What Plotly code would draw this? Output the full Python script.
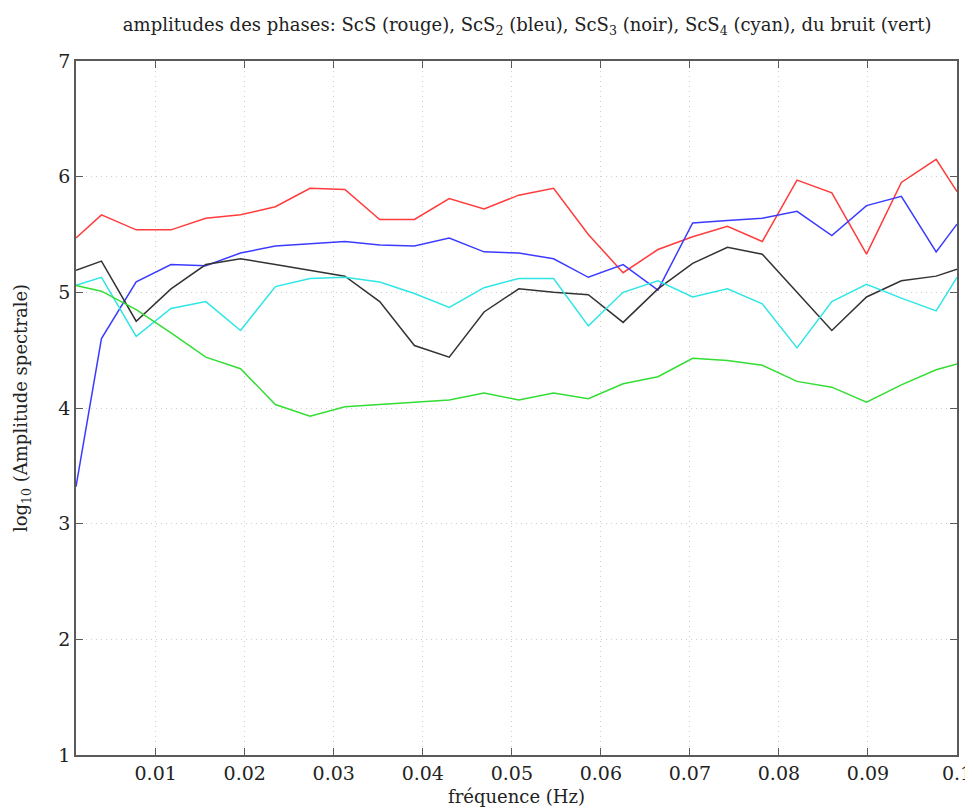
# Spectral amplitudes of ScS multiples and noise, log10 scale

# Imports
import plotly.graph_objects as go

# Globals

# Frequencies (Hz): edges of the axis plus the k/256 Hz samples
frequences = [0.00105, 0.00391, 0.00781, 0.01172, 0.01563, 0.01953, 0.02344, 0.02734,
	0.03125, 0.03516, 0.03906, 0.04297, 0.04688, 0.05078, 0.05469, 0.05859, 0.0625,
	0.06641, 0.07031, 0.07422, 0.07813, 0.08203, 0.08594, 0.08984, 0.09375, 0.09766, 0.1]

scs_rouge = [5.47, 5.67, 5.54, 5.54, 5.64, 5.67, 5.74, 5.90, 5.89, 5.63, 5.63, 5.81, 5.72,
	5.84, 5.90, 5.50, 5.17, 5.37, 5.48, 5.57, 5.44, 5.97, 5.86, 5.33, 5.95, 6.15, 5.87]
scs2_bleu = [3.32, 4.60, 5.09, 5.24, 5.23, 5.34, 5.40, 5.42, 5.44, 5.41, 5.40, 5.47, 5.35,
	5.34, 5.29, 5.13, 5.24, 5.02, 5.60, 5.62, 5.64, 5.70, 5.49, 5.75, 5.83, 5.35, 5.59]
scs3_noir = [5.19, 5.27, 4.75, 5.03, 5.24, 5.29, 5.24, 5.19, 5.14, 4.92, 4.54, 4.44, 4.83,
	5.03, 5.00, 4.98, 4.74, 5.03, 5.25, 5.39, 5.33, 5.00, 4.67, 4.96, 5.10, 5.14, 5.20]
scs4_cyan = [5.06, 5.13, 4.62, 4.86, 4.92, 4.67, 5.05, 5.12, 5.13, 5.09, 4.99, 4.87, 5.04,
	5.12, 5.12, 4.71, 5.00, 5.10, 4.96, 5.03, 4.90, 4.52, 4.92, 5.07, 4.95, 4.84, 5.13]
bruit_vert = [5.06, 5.01, 4.85, 4.65, 4.44, 4.34, 4.03, 3.93, 4.01, 4.03, 4.05, 4.07, 4.13,
	4.07, 4.13, 4.08, 4.21, 4.27, 4.43, 4.41, 4.37, 4.23, 4.18, 4.05, 4.20, 4.33, 4.38]

x_ticks = [0.01, 0.02, 0.03, 0.04, 0.05, 0.06, 0.07, 0.08, 0.09, 0.1]
x_labels = ["0.01", "0.02", "0.03", "0.04", "0.05", "0.06", "0.07", "0.08", "0.09", "0.1"]
y_ticks = [1, 2, 3, 4, 5, 6, 7]

FONT = "DejaVu Serif, Liberation Serif, serif"
TEXT_COLOR = "#222222"
AXIS_COLOR = "#5a5a5a"


def main():

	# 1. One line per series
	series = [
		(scs_rouge, "#ff3b3b", "ScS"),
		(scs2_bleu, "#3b3bff", "ScS2"),
		(scs3_noir, "#333333", "ScS3"),
		(scs4_cyan, "#2ee6e6", "ScS4"),
		(bruit_vert, "#33dd33", "bruit"),
	]

	fig = go.Figure()
	for values, color, name in series:
		fig.add_trace(go.Scatter(x=frequences, y=values, mode="lines", name=name,
			line=dict(color=color, width=1.5)))

	# 2. Matlab-like axes: boxed, inside ticks, dotted grid
	axis_style = dict(
		showline=True, linecolor=AXIS_COLOR, linewidth=1.5, mirror="ticks",
		ticks="inside", ticklen=7, tickcolor=AXIS_COLOR,
		showgrid=True, gridcolor="#cfcfcf", griddash="1px,4px", gridwidth=1,
		zeroline=False, automargin=False,
		tickfont=dict(family=FONT, size=19, color=TEXT_COLOR),
	)

	fig.update_xaxes(range=[frequences[0], 0.1], tickvals=x_ticks, ticktext=x_labels,
		title=dict(text="fréquence (Hz)", font=dict(family=FONT, size=18, color=TEXT_COLOR),
		standoff=8), **axis_style)
	fig.update_yaxes(range=[1, 7], tickvals=y_ticks,
		title=dict(text="log<sub>10</sub> (Amplitude spectrale)",
		font=dict(family=FONT, size=18, color=TEXT_COLOR), standoff=26), **axis_style)

	# 3. Layout (page body adds an 8 px offset, so the figure is 8 px smaller)
	fig.update_layout(
		width=965, height=804,
		margin=dict(l=68, r=16, t=53, b=57, autoexpand=False),
		plot_bgcolor="white", paper_bgcolor="white",
		showlegend=False,
		title=dict(
			text="amplitudes des phases: ScS (rouge), ScS<sub>2</sub> (bleu), ScS<sub>3</sub> (noir), "
				"ScS<sub>4</sub> (cyan), du bruit (vert)",
			font=dict(family=FONT, size=18, color=TEXT_COLOR),
			x=0.538, xanchor="center", y=0.979, yanchor="middle",
		),
	)

	fig.write_html("out.html")


if "__main__" == __name__:
	main()
